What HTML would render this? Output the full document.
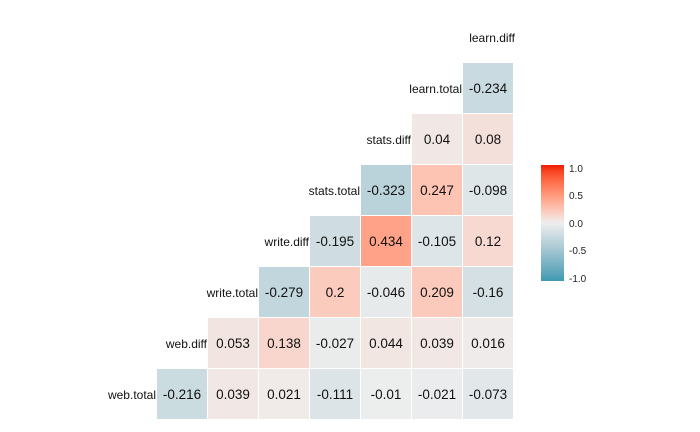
<!DOCTYPE html>
<html><head><meta charset="utf-8"><style>
body{margin:0;background:#fff;font-family:"Liberation Sans",sans-serif;}
#c{position:relative;width:700px;height:432px;overflow:hidden}
.cell{position:absolute;width:50px;height:50px;display:flex;align-items:center;justify-content:center;font-size:13.5px;color:#111}
.lab{position:absolute;font-size:12px;color:#111;text-align:right;width:120px}
.lg{position:absolute;left:569px;font-size:10px;color:#222}
</style></head><body><div id="c">
<div id="bar" style="position:absolute;left:541px;top:165px;width:23px;height:116px"></div>
<div class="lg" style="top:164px">1.0</div>
<div class="lg" style="top:191px">0.5</div>
<div class="lg" style="top:219px">0.0</div>
<div class="lg" style="top:246px">-0.5</div>
<div class="lg" style="top:274px">-1.0</div>
</div>
<script>
function lab(h){var r=parseInt(h.substr(1,2),16)/255,g=parseInt(h.substr(3,2),16)/255,b=parseInt(h.substr(5,2),16)/255;
function f(c){return c>0.04045?Math.pow((c+0.055)/1.055,2.4):c/12.92}r=f(r);g=f(g);b=f(b);
var x=(r*0.4124+g*0.3576+b*0.1805)/0.95047,y=r*0.2126+g*0.7152+b*0.0722,z=(r*0.0193+g*0.1192+b*0.9505)/1.08883;
function h2(t){return t>0.008856?Math.cbrt(t):7.787*t+16/116}x=h2(x);y=h2(y);z=h2(z);return[116*y-16,500*(x-y),200*(y-z)];}
function rgb(L){var y=(L[0]+16)/116,x=L[1]/500+y,z=y-L[2]/200;function g(t){return t*t*t>0.008856?t*t*t:(t-16/116)/7.787}
x=g(x)*0.95047;y=g(y);z=g(z)*1.08883;var r=x*3.2406+y*-1.5372+z*-0.4986,gg=x*-0.9689+y*1.8758+z*0.0415,b=x*0.0557+y*-0.2040+z*1.0570;
function c(v){v=v>0.0031308?1.055*Math.pow(v,1/2.4)-0.055:12.92*v;return Math.max(0,Math.min(255,Math.round(v*255)))}
return "rgb("+c(r)+","+c(gg)+","+c(b)+")";}
var LO=lab("#3B9AB2"),MI=lab("#EEEEEE"),HI=lab("#F21A00");
function col(v){var a=v<0?LO:HI,t=Math.abs(v);return rgb([MI[0]+(a[0]-MI[0])*t,MI[1]+(a[1]-MI[1])*t,MI[2]+(a[2]-MI[2])*t]);}
var C=document.getElementById("c");
var rows=[["learn.total",6,["-0.234"]],["stats.diff",5,["0.04","0.08"]],["stats.total",4,["-0.323","0.247","-0.098"]],
["write.diff",3,["-0.195","0.434","-0.105","0.12"]],["write.total",2,["-0.279","0.2","-0.046","0.209","-0.16"]],
["web.diff",1,["0.053","0.138","-0.027","0.044","0.039","0.016"]],["web.total",0,["-0.216","0.039","0.021","-0.111","-0.01","-0.021","-0.073"]]];
var h='<div class="lab" style="left:395px;top:31px">learn.diff</div>';
rows.forEach(function(r,i){var y=63+i*51,s=r[1];
h+='<div class="lab" style="left:'+(157+s*51-121)+'px;top:'+(y+19)+'px">'+r[0]+'</div>';
r[2].forEach(function(v,j){h+='<div class="cell" style="left:'+(157+(s+j)*51)+'px;top:'+y+'px;background:'+col(parseFloat(v))+'">'+v+'</div>';});});
C.insertAdjacentHTML("beforeend",h);
var st=[];for(var k=0;k<=20;k++){st.push(col(1-k/10)+" "+(k*5)+"%");}
document.getElementById("bar").style.background="linear-gradient("+st.join(",")+")";
</script></body></html>
